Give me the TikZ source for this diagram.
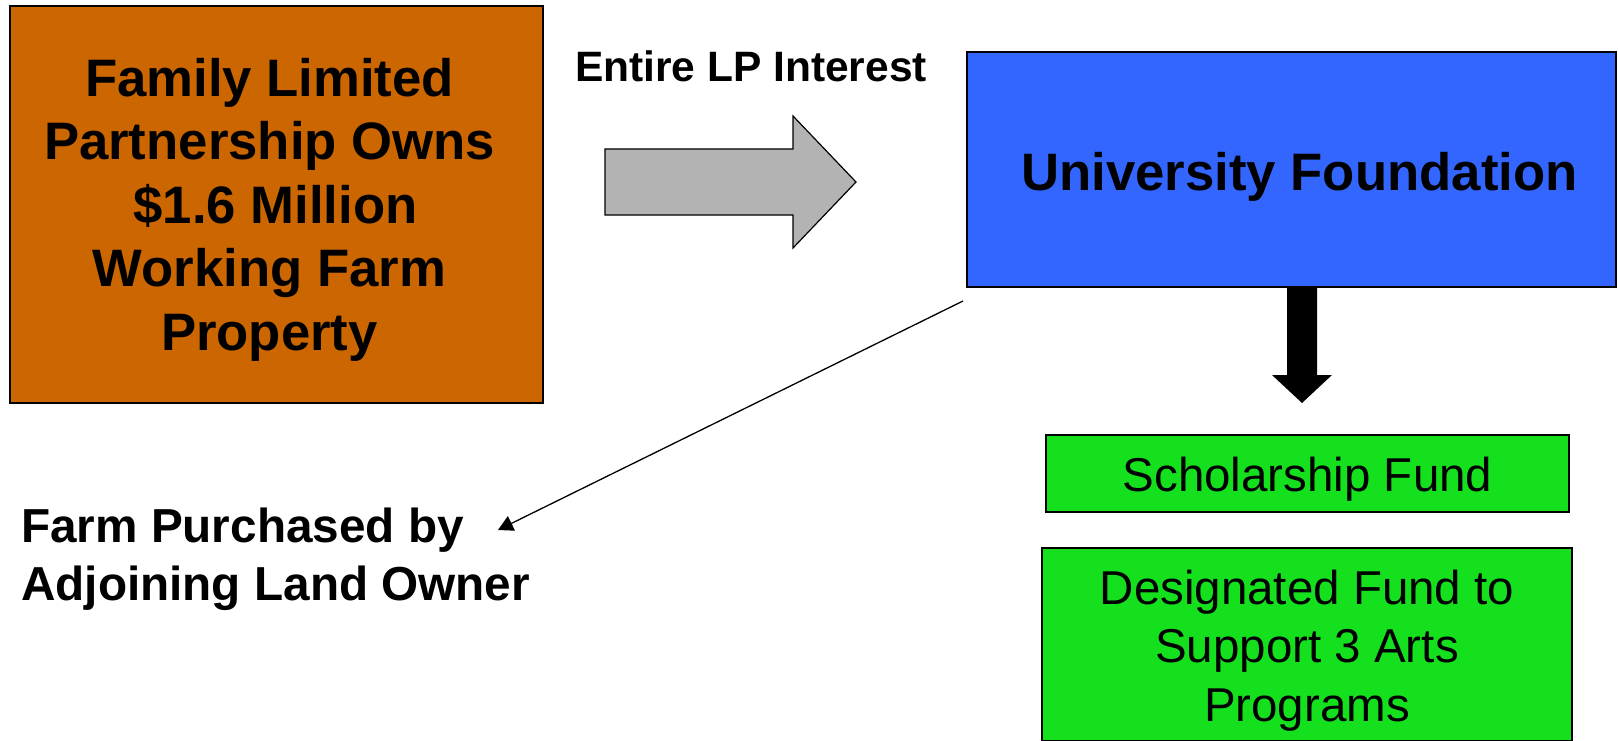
\documentclass[tikz,border=0pt]{standalone}
\usepackage{fontspec}
\setmainfont{Liberation Sans}
\usetikzlibrary{arrows.meta}
\definecolor{forange}{HTML}{CC6600}
\definecolor{fblue}{HTML}{3366FF}
\definecolor{fgray}{HTML}{B3B3B3}
\definecolor{fgreen}{HTML}{14E01E}
\newcommand{\lowerby}[2]{\raisebox{-#1}[\height][\depth]{#2}}
\tikzset{
  box/.style={draw=black, line width=1.5pt, rectangle, inner sep=0pt, align=center},
  bigbold/.style={font=\fontsize{52.7}{63.5}\selectfont\bfseries},
  greentxt/.style={font=\fontsize{47.5}{58.5}\selectfont},
  lbl/.style={font=\fontsize{47.7}{58}\selectfont\bfseries, align=left, inner sep=0pt},
  blockarrow/.style={draw=black, line width=1.2pt, line join=miter}
}
\begin{document}
\begin{tikzpicture}[x=1pt,y=-1pt]
\useasboundingbox (0,0) rectangle (1618,741);
\fill[white] (0,0) rectangle (1618,741);

\node[box, bigbold, fill=forange, minimum width=533pt, minimum height=397pt] (flp) at (276.5,204.5)
  {\hspace*{-14pt}\lowerby{5pt}{\parbox{520pt}{\centering Family Limited\\Partnership Owns\\\hspace*{12pt}\$1.6 Million\\Working Farm\\Property}}};

\node[box, bigbold, fill=fblue, minimum width=649pt, minimum height=235pt] (uf) at (1291.5,169.5)
  {\lowerby{7pt}{\hspace*{16pt}University Foundation}};

\node[box, greentxt, fill=fgreen, minimum width=523pt, minimum height=77pt] (sf) at (1307.5,473.5)
  {\lowerby{6pt}{Scholarship Fund}};

\node[box, greentxt, fill=fgreen, minimum width=530pt, minimum height=193pt] (df) at (1307,644.5)
  {\lowerby{6pt}{\parbox{520pt}{\centering Designated Fund to\\Support 3 Arts\\Programs}}};

\node[font=\fontsize{42.5}{50}\selectfont\bfseries, inner sep=0pt] (lp) at (751,66) {Entire LP Interest};

\node[lbl, anchor=west] (farm) at (21,559.5) {Farm Purchased by\\Adjoining Land Owner};

% gray block arrow from FLP to Foundation
\coordinate (ga1) at (605,149);
\draw[blockarrow, fill=fgray] (ga1) -- (793,149) -- (793,116) -- (856,182) -- (793,248) -- (793,215) -- (605,215) -- cycle;

% black block arrow from Foundation to Scholarship Fund
\coordinate (ba1) at (1287,288);
\fill[black] (ba1) -- (1317,288) -- (1317,375) -- (1332,375) -- (1302,403) -- (1272,375) -- (1287,375) -- cycle;

% thin arrow to farm purchase
\coordinate (ts) at (963,301);
\coordinate (te) at (498,530);
\draw[line width=1.3pt, -{Triangle[length=15pt,width=16pt]}] (ts) -- (te);
\end{tikzpicture}
\end{document}
